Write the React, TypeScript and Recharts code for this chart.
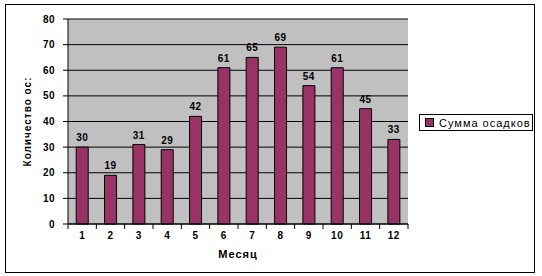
import React from 'react';
import { BarChart, Bar, XAxis, YAxis, CartesianGrid, LabelList } from 'recharts';

const months = ['1', '2', '3', '4', '5', '6', '7', '8', '9', '10', '11', '12'];
const rainfall = [30, 19, 31, 29, 42, 61, 65, 69, 54, 61, 45, 33];
const yTicks = [0, 10, 20, 30, 40, 50, 60, 70, 80];
const seriesName = 'Сумма осадков';

const data = months.map((m, i) => ({ month: m, value: rainfall[i] }));

const font = '"Liberation Sans", Arial, sans-serif';
const tickStyle = { fill: '#000', fontSize: 10, fontWeight: 700, fontFamily: font, letterSpacing: 0.5 };

// month label centred under the bar, tick marks on the category boundaries (Excel style)
function MonthTick(props: any) {
  const { x, y, payload, index, visibleTicksCount, width } = props;
  const half = payload && payload.offset ? payload.offset : width / visibleTicksCount / 2;
  const top = y - 8;
  return (
    <g>
      <line x1={x - half} x2={x - half} y1={top} y2={top + 5} stroke="#000" strokeWidth={1} />
      {index === visibleTicksCount - 1 && (
        <line x1={x + half} x2={x + half} y1={top} y2={top + 5} stroke="#000" strokeWidth={1} />
      )}
      <text x={x} y={y} dy="0.71em" textAnchor="middle" style={tickStyle}>
        {payload.value}
      </text>
    </g>
  );
}

function LegendBox() {
  return (
    <div
      style={{
        position: 'absolute',
        left: 419,
        top: 114,
        border: '1px solid #000',
        width: 114,
        height: 17,
        boxSizing: 'border-box',
        display: 'flex',
        alignItems: 'center',
        fontFamily: font,
        fontSize: 11,
        letterSpacing: 1,
        color: '#000',
        background: '#fff',
      }}
    >
      <span
        style={{
          display: 'inline-block',
          width: 7,
          height: 7,
          background: '#993366',
          border: '1px solid #000',
          marginLeft: 5,
          marginRight: 5,
        }}
      />
      {seriesName}
    </div>
  );
}

export default function App() {
  return (
    <div style={{ position: 'absolute', left: 0, top: 0, width: 542, height: 276, background: '#fff' }}>
      <div
        style={{
          position: 'absolute',
          left: 5,
          top: 4,
          width: 530,
          height: 269,
          border: '1px solid #000',
          boxSizing: 'border-box',
        }}
      />
      <div style={{ position: 'absolute', left: 0, top: 0 }}>
        <BarChart
          width={542}
          height={276}
          data={data}
          margin={{ top: 19, right: 134, bottom: 14, left: 28 }}
          barCategoryGap="29%"
        >
          <CartesianGrid fill="#C0C0C0" stroke="#000" vertical={false} />
          <XAxis
            dataKey="month"
            tickLine={{ stroke: 'none' }}
            tickSize={6}
            tickMargin={2}
            axisLine={{ stroke: '#000' }}
            tick={<MonthTick />}
            interval={0}
            height={38}
            label={{ value: 'Месяц', position: 'insideBottom', offset: 4, style: { ...tickStyle, fontSize: 11, letterSpacing: 1 } }}
          />
          <YAxis
            domain={[0, 80]}
            ticks={yTicks}
            width={40}
            tick={tickStyle}
            tickSize={5}
            tickMargin={8}
            tickLine={{ stroke: '#000' }}
            axisLine={{ stroke: '#000' }}
            label={{
              value: 'Количество ос:',
              angle: -90,
              position: 'center',
              dx: -21,
              style: { ...tickStyle, letterSpacing: 1 },
            }}
          />
          <Bar
            dataKey="value"
            name={seriesName}
            fill="#993366"
            stroke="#000"
            strokeWidth={1}
            isAnimationActive={false}
          >
            <LabelList dataKey="value" position="top" offset={6} style={tickStyle} />
          </Bar>
        </BarChart>
      </div>
      <LegendBox />
    </div>
  );
}
